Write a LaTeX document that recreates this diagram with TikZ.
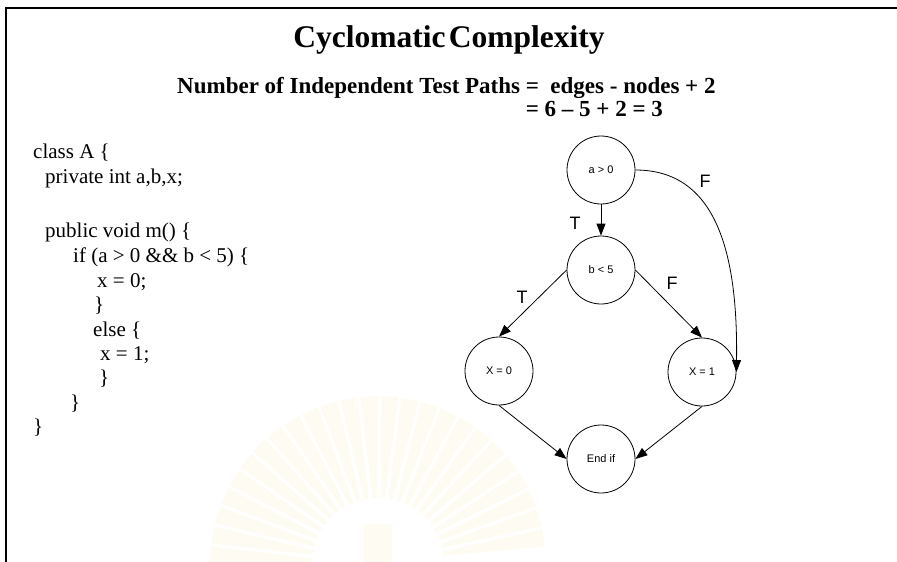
\documentclass[tikz,border=0pt]{standalone}
\usepackage{fontspec}
\setmainfont{Liberation Serif}
\newfontfamily\diagfont{Liberation Sans}
\usetikzlibrary{arrows.meta}
\definecolor{sealtint}{RGB}{254,252,242}
\begin{document}
\begin{tikzpicture}[x=1pt,y=-1pt,
  codeline/.style={anchor=base west, inner sep=0pt, font=\fontsize{21}{21}\selectfont},
  headline/.style={inner sep=0pt, font=\bfseries\fontsize{23}{23}\selectfont},
  state/.style={circle, draw, line width=0.8pt, minimum size=68pt, inner sep=0pt,
    font=\diagfont\fontsize{11}{11}\selectfont},
  flow/.style={line width=0.8pt, -{Triangle[length=12pt,width=9pt]}},
  branch/.style={inner sep=0pt, font=\diagfont\fontsize{18}{18}\selectfont},
  frameline/.style={line width=2.5pt}]
\useasboundingbox (0,0) rectangle (897,562);

% faint seal in the background
\begin{scope}[shift={(378,564)}]
  \foreach \a in {-177,-170,...,-3} {
    \fill[sealtint] (\a-2:66) -- (\a-3:168) -- (\a+3:168) -- (\a+2:66) -- cycle;
  }
  \fill[sealtint] (-14,0) rectangle (14,-40);
\end{scope}

% slide frame
\draw[frameline] (6,562) -- (6,8) -- (897,8);

% heading and formula
\node[inner sep=0pt, anchor=base, font=\bfseries\fontsize{31.5}{31.5}\selectfont]
  (title) at (449,47) {Cyclomatic\hspace{0.1em}Complexity};
\node[headline, anchor=base west] (formula) at (177,93)
  {Number of Independent Test Paths =\ \ edges - nodes + 2};
\node[headline, anchor=base west] (result) at (177,116)
  {\phantom{Number of Independent Test Paths }= 6 – 5 + 2 = 3};

% source code
\node[codeline] (c1)  at (33,158)  {class A \{};
\node[codeline] (c2)  at (45,183)  {private int a,b,x;};
\node[codeline] (c3)  at (45,237)  {public void m() \{};
\node[codeline] (c4)  at (73,262)  {if (a > 0 \&\& b < 5) \{};
\node[codeline] (c5)  at (97,287)  {x = 0;};
\node[codeline] (c6)  at (94,311)  {\}};
\node[codeline] (c7)  at (93,336)  {else \{};
\node[codeline] (c8)  at (100,360) {x = 1;};
\node[codeline] (c9)  at (99,384)  {\}};
\node[codeline] (c10) at (70,409)  {\}};
\node[codeline] (c11) at (33,433)  {\}};

% control flow graph
\node[state] (a)   at (601,170) {a > 0};
\node[state] (b)   at (601,270) {b < 5};
\node[state] (x0)  at (499,371) {X = 0};
\node[state] (x1)  at (702,372) {X = 1};
\node[state] (end) at (601,459) {End if};

\draw[flow] (a) -- (b);
\draw[flow] (b.west) -- (x0.north);
\draw[flow] (b.east) -- (x1.north);
\draw[flow] (x0.south) -- (end.west);
\draw[flow] (x1.south) -- (end.east);
\draw[flow] (a.east) .. controls (715,170) and (738,250) .. (x1.east);

\node[branch] (t1) at (575,223) {T};
\node[branch] (f1) at (705,181) {F};
\node[branch] (t2) at (522,297) {T};
\node[branch] (f2) at (672,283) {F};
\end{tikzpicture}
\end{document}
